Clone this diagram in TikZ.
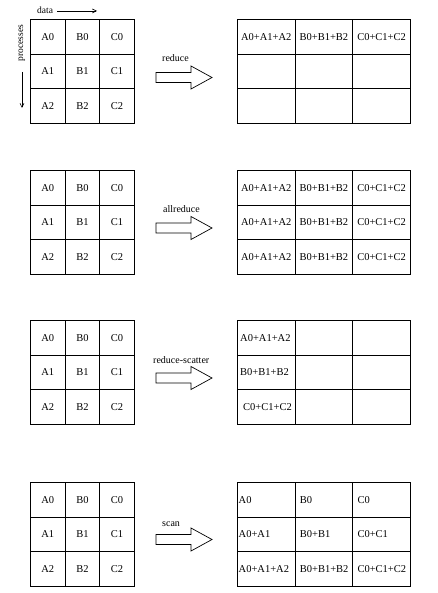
\documentclass[tikz,border=0pt]{standalone}
\usepackage{fontspec}
\setmainfont{Liberation Serif}
\usetikzlibrary{arrows.meta}
\begin{document}
\begin{tikzpicture}[x=1pt,y=-1pt,
  gridline/.style={draw=black, line width=0.8pt},
  lcell/.style={gridline, minimum width=34.67pt, minimum height=34.67pt, inner sep=0pt, anchor=north west, font=\fontsize{10.5}{12}\selectfont},
  rcell/.style={gridline, minimum width=57.67pt, minimum height=34.67pt, inner sep=0pt, anchor=north west},
  txt/.style={inner sep=0pt, font=\fontsize{10.5}{12}\selectfont},
  ltxt/.style={txt, anchor=west},
  oplabel/.style={inner sep=0pt, font=\fontsize{10}{11}\selectfont, anchor=base west},
  fatarrow/.style={draw=black, line width=0.7pt, line join=miter},
  axislabel/.style={inner sep=0pt, font=\fontsize{9.5}{11}\selectfont}
]
\useasboundingbox (0,0) rectangle (438,593);
\fill[white] (0,0) rectangle (438,593);

% axis labels
\node[axislabel, anchor=base west] (data) at (37,14) {data};
\coordinate (dataend) at (97,11);
\draw[line width=0.6pt, -{Straight Barb[length=4pt,width=4pt]}] (data.east |- dataend) ++(4,0) coordinate (datastart) (datastart) -- (dataend);
\node[axislabel, rotate=90] (proc) at (22,43) {processes};
\coordinate (procstart) at (22,72);
\coordinate (procend) at (22,108);
\draw[line width=0.6pt, -{Straight Barb[length=4pt,width=4pt]}] (procstart) -- (procend);

% left grids
\foreach \p/\y in {1/19,2/170,3/320,4/482} {
  \foreach \c/\l in {0/A,1/B,2/C} {
    \foreach \r in {0,1,2} {
      \node[lcell] (L\p\l\r) at ({30+\c*34.67},{\y+\r*34.67}) {\l\r};
    }
  }
}

% right grids
\foreach \p/\y in {1/19,2/170,3/320,4/482} {
  \foreach \c in {0,1,2} {
    \foreach \r in {0,1,2} {
      \node[rcell] (R\p-\c-\r) at ({237+\c*57.67},{\y+\r*34.67}) {};
    }
  }
}

% fat arrows
\foreach \p/\m in {1/77.5,2/228,3/378,4/539.5} {
  \draw[fatarrow] (156,\m-5) -- (191,\m-5) -- (191,\m-11.5) -- (212,\m)
    -- (191,\m+11.5) -- (191,\m+5) -- (156,\m+5) -- cycle;
}

% operation labels
\node[oplabel] (op1) at (162,62) {reduce};
\node[oplabel] (op2) at (163,213) {allreduce};
\node[oplabel] (op3) at (153,363) {reduce-scatter};
\node[oplabel] (op4) at (162,526) {scan};

% panel 1: reduce
\node[txt] (t1a) at (R1-0-0) {A0+A1+A2};
\node[txt] (t1b) at (R1-1-0) {B0+B1+B2};
\node[txt] (t1c) at (R1-2-0) {C0+C1+C2};

% panel 2: allreduce
\foreach \r in {0,1,2} {
  \node[txt] (t2a\r) at (R2-0-\r) {A0+A1+A2};
  \node[txt] (t2b\r) at (R2-1-\r) {B0+B1+B2};
  \node[txt] (t2c\r) at (R2-2-\r) {C0+C1+C2};
}

% panel 3: reduce-scatter
\node[ltxt] (t3a) at ([xshift=3pt]R3-0-0.west) {A0+A1+A2};
\node[ltxt] (t3b) at ([xshift=3pt]R3-0-1.west) {B0+B1+B2};
\node[ltxt] (t3c) at ([xshift=6pt]R3-0-2.west) {C0+C1+C2};

% panel 4: scan
\node[ltxt] (t4a0) at ([xshift=1.5pt]R4-0-0.west) {A0};
\node[ltxt] (t4b0) at ([xshift=5pt]R4-1-0.west) {B0};
\node[ltxt] (t4c0) at ([xshift=5pt]R4-2-0.west) {C0};
\node[ltxt] (t4a1) at ([xshift=1.5pt]R4-0-1.west) {A0+A1};
\node[ltxt] (t4b1) at ([xshift=5pt]R4-1-1.west) {B0+B1};
\node[ltxt] (t4c1) at ([xshift=5pt]R4-2-1.west) {C0+C1};
\node[ltxt] (t4a2) at ([xshift=1.5pt]R4-0-2.west) {A0+A1+A2};
\node[ltxt] (t4b2) at ([xshift=5pt]R4-1-2.west) {B0+B1+B2};
\node[ltxt] (t4c2) at ([xshift=5pt]R4-2-2.west) {C0+C1+C2};
\end{tikzpicture}
\end{document}
